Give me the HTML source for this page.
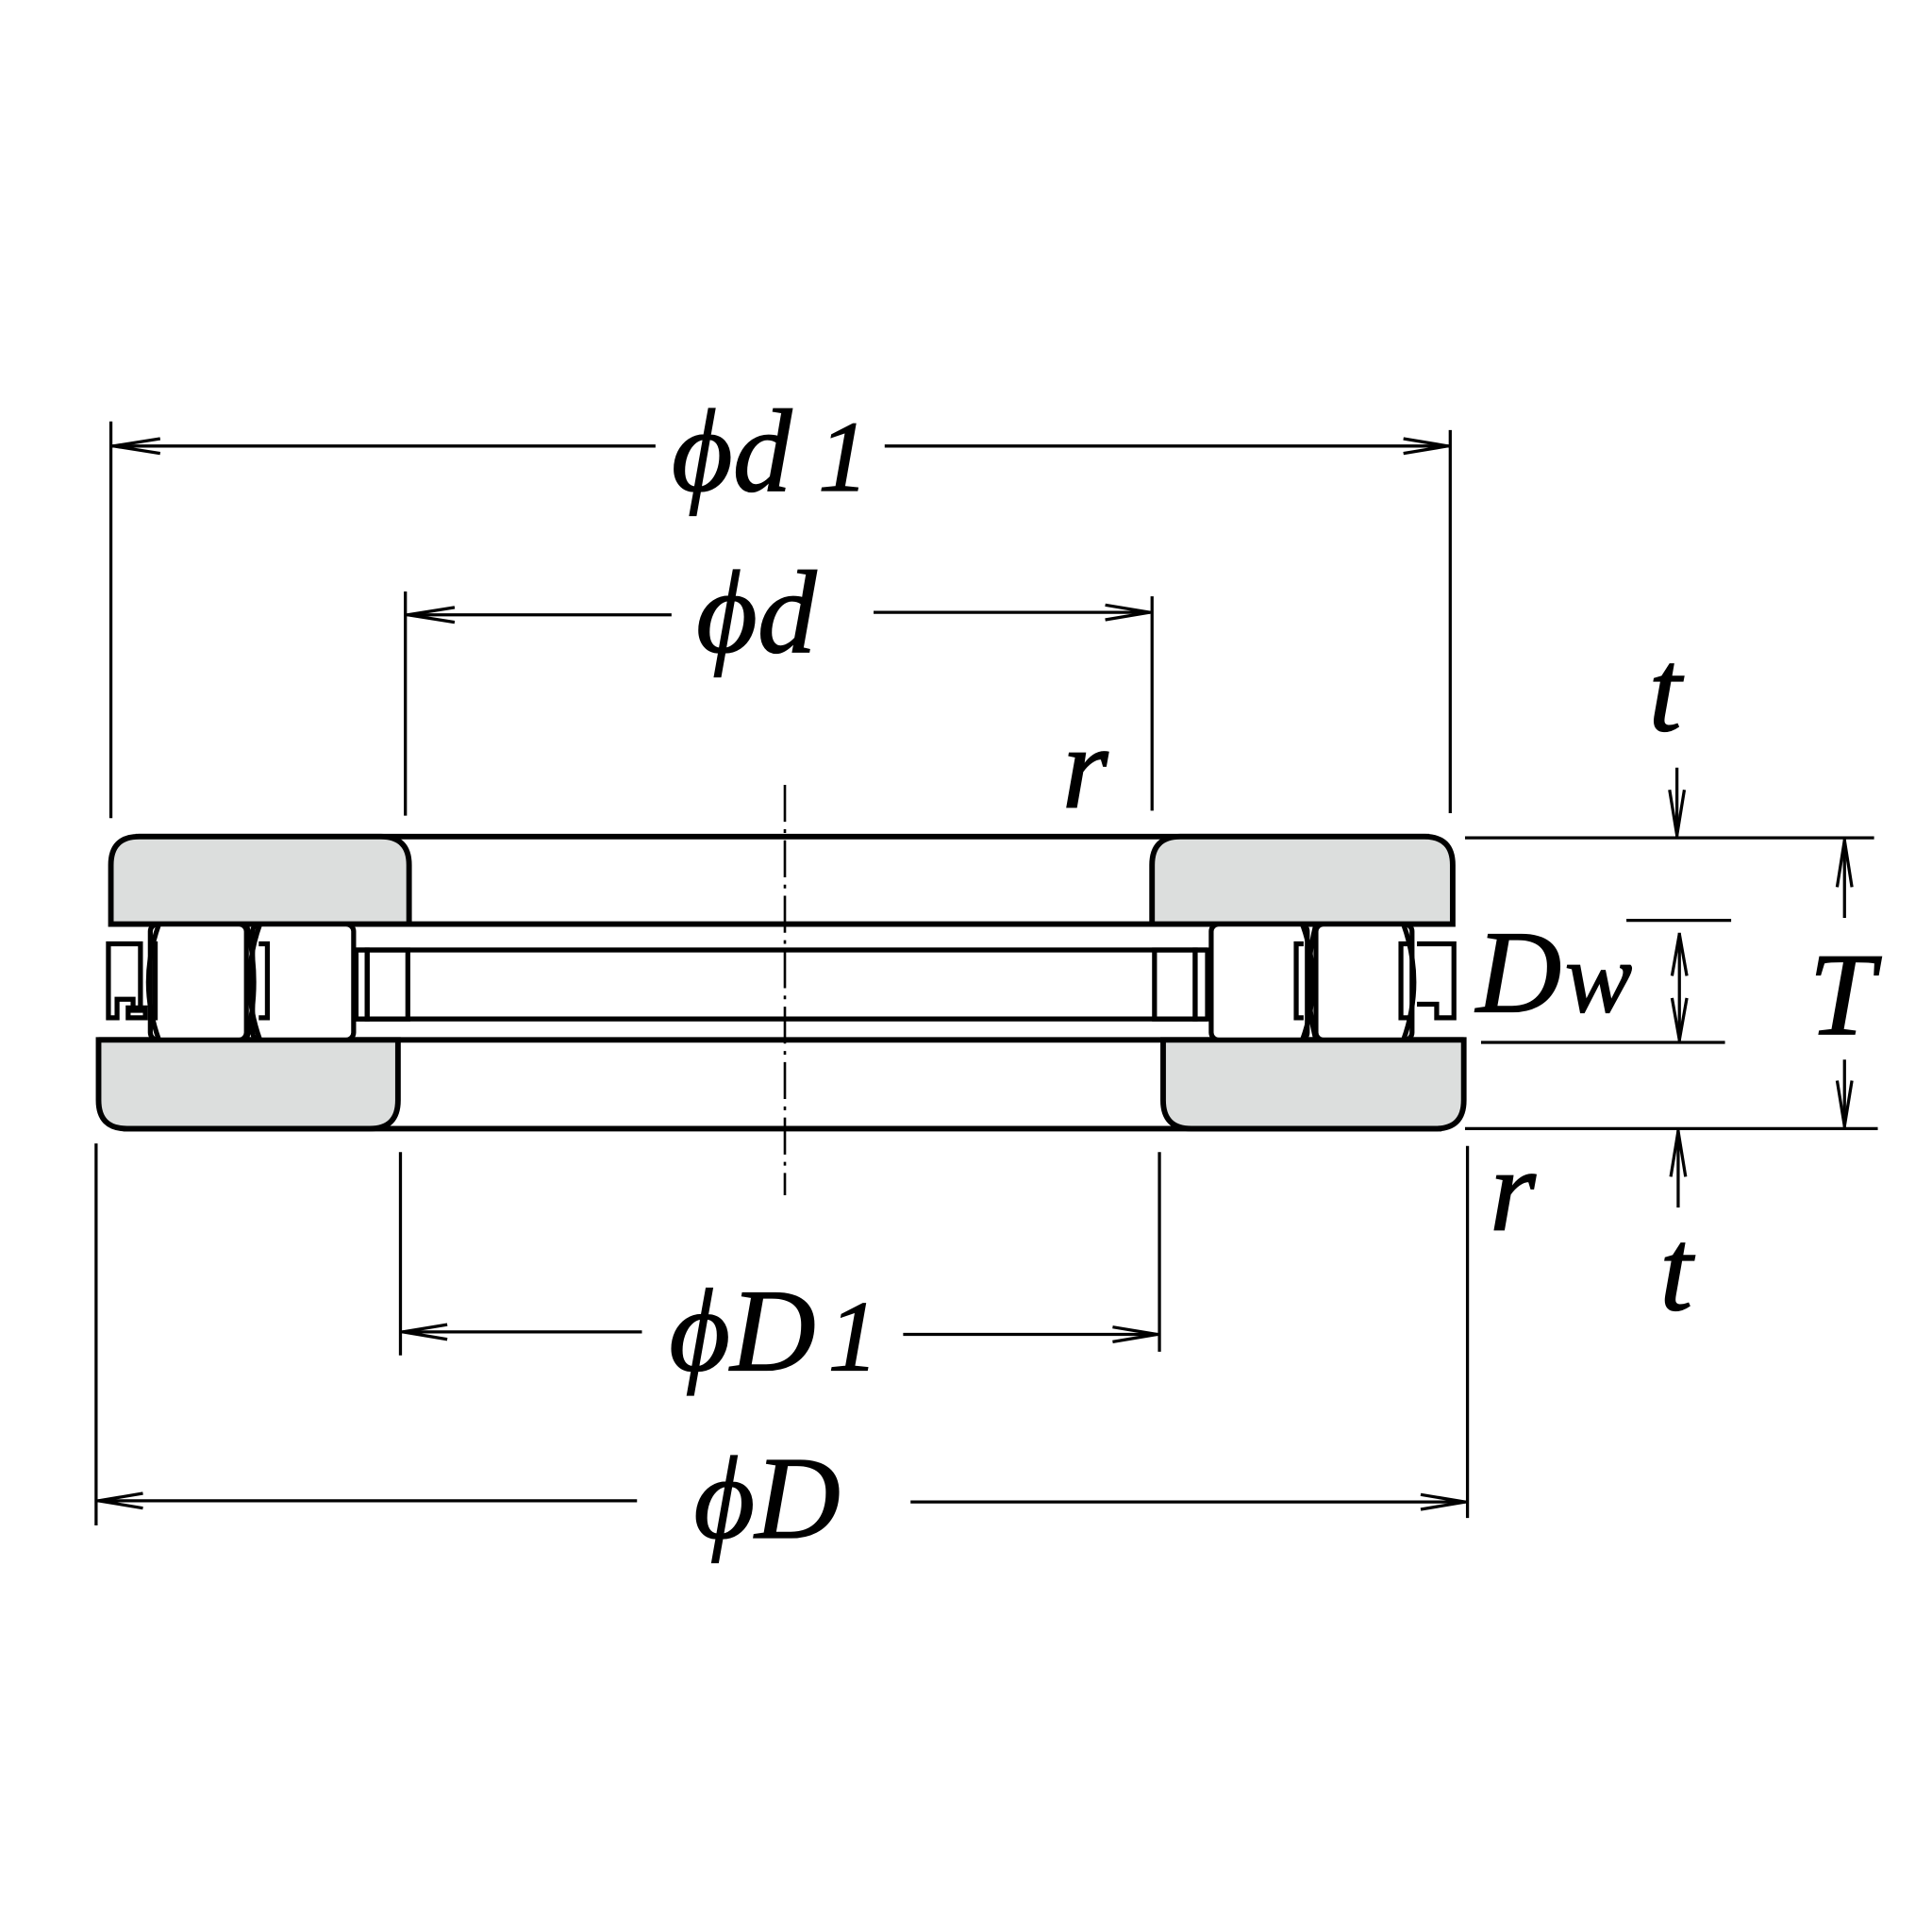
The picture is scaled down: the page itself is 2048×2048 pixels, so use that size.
<!DOCTYPE html>
<html><head><meta charset="utf-8"><style>
html,body{margin:0;padding:0;background:#fff;}
svg{display:block;}
text{font-family:"Liberation Serif",serif;font-style:italic;fill:#000;stroke:#000;stroke-width:1;}
</style></head><body>
<svg width="2048" height="2048" viewBox="0 0 1568 1568" xmlns="http://www.w3.org/2000/svg">
<g stroke="#000" fill="none">
<g stroke-width="4.5">
<line x1="110" y1="679" x2="1160" y2="679"/>
<line x1="90" y1="750" x2="1179" y2="750"/>
<path d="M90 750 V702 Q90 679 113 679 H309 Q332 679 332 702 V750 Z" fill="#dcdedd"/>
<path d="M935 750 V702 Q935 679 958 679 H1156 Q1179 679 1179 702 V750 Z" fill="#dcdedd"/>
<line x1="80" y1="844" x2="1188" y2="844"/>
<line x1="100" y1="916" x2="1170" y2="916"/>
<path d="M80 844 H323 V893 Q323 916 300 916 H103 Q80 916 80 893 Z" fill="#dcdedd"/>
<path d="M944 844 H1188 V893 Q1188 916 1165 916 H967 Q944 916 944 893 Z" fill="#dcdedd"/>
</g>
<g stroke-width="4">
<line x1="289" y1="771" x2="980" y2="771"/>
<line x1="289" y1="827" x2="980" y2="827"/>
<rect x="289" y="771" width="9" height="56"/>
<rect x="298" y="771" width="33" height="56"/>
<rect x="937" y="771" width="33" height="56"/>
<rect x="970" y="771" width="10" height="56"/>
<rect x="122" y="750" width="78" height="94" rx="6" fill="#fff"/>
<rect x="205" y="750" width="82" height="94" rx="6" fill="#fff"/>
<path d="M129 750 Q112 797 129 844"/>
<path d="M211 750 Q194 797 211 844"/>
<path d="M200 750 Q212 797 200 844"/>
<path d="M121 766 h5 v60 h-5"/>
<path d="M210 766 h7 v60 h-7"/>
<path d="M88 766 H114 V820 H108 V811 H95 V826 H88 Z M104 818 H118 V826 H104 Z"/>
<rect x="983" y="750" width="78" height="94" rx="6" fill="#fff"/>
<rect x="1068" y="750" width="78" height="94" rx="6" fill="#fff"/>
<path d="M1057 750 Q1074 797 1057 844"/>
<path d="M1139 750 Q1156 797 1139 844"/>
<path d="M1068 750 Q1056 797 1068 844"/>
<path d="M1058 766 h-6 v60 h6"/>
<path d="M1144 766 h-7 v60 h7"/>
<path d="M1150 766 H1180 V826 H1166 V815 H1150"/>
</g>
<line x1="637" y1="637" x2="637" y2="970" stroke-width="2" stroke-dasharray="30,6,3,6"/>
<g stroke-width="2.5">
<line x1="90" y1="342" x2="90" y2="664"/>
<line x1="1177" y1="349" x2="1177" y2="660"/>
<line x1="90" y1="362" x2="532" y2="362"/>
<line x1="718" y1="362" x2="1177" y2="362"/>
<line x1="329" y1="480" x2="329" y2="662"/>
<line x1="935" y1="484" x2="935" y2="658"/>
<line x1="329" y1="499" x2="545" y2="499"/>
<line x1="709" y1="497" x2="935" y2="497"/>
<line x1="325" y1="935" x2="325" y2="1100"/>
<line x1="941" y1="935" x2="941" y2="1097"/>
<line x1="325" y1="1081" x2="521" y2="1081"/>
<line x1="733" y1="1083" x2="941" y2="1083"/>
<line x1="78" y1="928" x2="78" y2="1238"/>
<line x1="1191" y1="930" x2="1191" y2="1232"/>
<line x1="78" y1="1218" x2="517" y2="1218"/>
<line x1="739" y1="1219" x2="1191" y2="1219"/>
<line x1="1189" y1="680" x2="1521" y2="680"/>
<line x1="1189" y1="916" x2="1524" y2="916"/>
<line x1="1320" y1="747" x2="1405" y2="747"/>
<line x1="1202" y1="846" x2="1400" y2="846"/>
<line x1="1361" y1="623" x2="1361" y2="679"/>
<line x1="1362" y1="917" x2="1362" y2="980"/>
<line x1="1497" y1="681" x2="1497" y2="745"/>
<line x1="1497" y1="860" x2="1497" y2="915"/>
<line x1="1363" y1="757" x2="1363" y2="845"/>
<polyline points="130,356 92,362 130,368"/>
<polyline points="1139,356 1175,362 1139,368"/>
<polyline points="369,493 331,499 369,505"/>
<polyline points="897,491 933,497 897,503"/>
<polyline points="363,1075 327,1081 363,1087"/>
<polyline points="903,1077 939,1083 903,1089"/>
<polyline points="116,1212 80,1218 116,1224"/>
<polyline points="1153,1213 1189,1219 1153,1225"/>
<polyline points="1355,641 1361,678 1367,641"/>
<polyline points="1356,955 1362,918 1368,955"/>
<polyline points="1491,720 1497,682 1503,720"/>
<polyline points="1491,877 1497,914 1503,877"/>
<polyline points="1357,792 1363,758 1369,792"/>
<polyline points="1357,810 1363,844 1369,810"/>
</g>
</g>
<g font-size="96">
<text x="545" y="398">ϕd</text>
<text x="664" y="398" font-size="82">1</text>
<text x="565" y="529">ϕd</text>
<text x="543" y="1112">ϕD</text>
<text x="672" y="1112" font-size="82">1</text>
<text x="563" y="1248">ϕD</text>
<text x="1338" y="593">t</text>
<text x="1347" y="1063">t</text>
<text x="862" y="655">r</text>
<text x="1209" y="998">r</text>
<text x="1198" y="821">D</text>
<text x="1270" y="821" font-size="82">w</text>
<text x="1468" y="839">T</text>
</g>
</svg>
</body></html>
